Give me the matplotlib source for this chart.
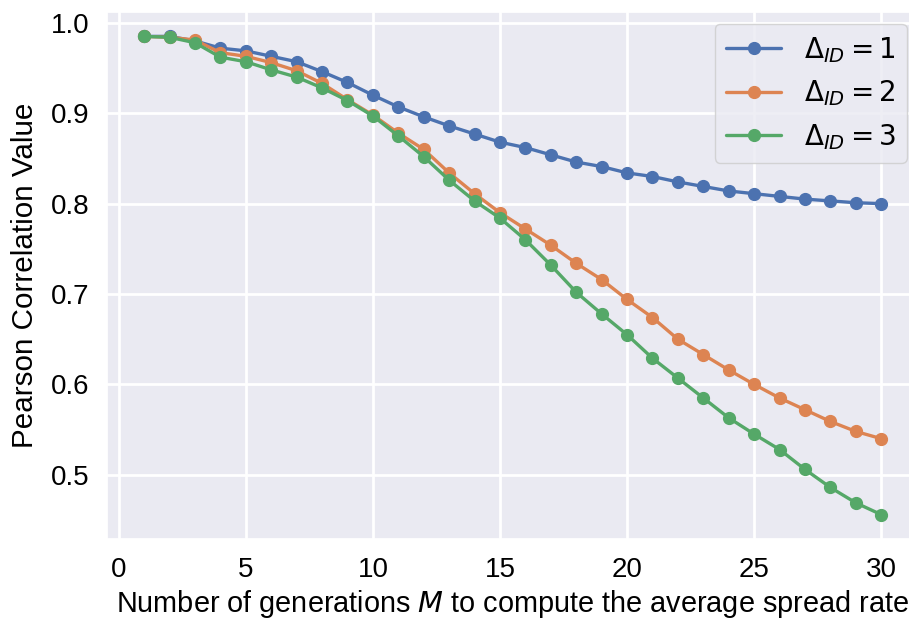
import numpy as np
import matplotlib
matplotlib.use("Agg")
import matplotlib.pyplot as plt
import seaborn as sns

generations = list(range(1, 31))

# Pearson correlation for each Delta_ID
delta1 = [0.985, 0.985, 0.980, 0.972, 0.969, 0.963, 0.957, 0.946, 0.934, 0.920,
          0.907, 0.896, 0.886, 0.877, 0.868, 0.862, 0.854, 0.846, 0.841, 0.834,
          0.830, 0.824, 0.819, 0.814, 0.811, 0.808, 0.805, 0.803, 0.801, 0.800]
delta2 = [0.985, 0.984, 0.981, 0.967, 0.963, 0.956, 0.947, 0.933, 0.915, 0.898,
          0.878, 0.860, 0.834, 0.811, 0.790, 0.772, 0.754, 0.734, 0.716, 0.694,
          0.674, 0.650, 0.633, 0.616, 0.600, 0.585, 0.572, 0.559, 0.548, 0.540]
delta3 = [0.985, 0.984, 0.978, 0.962, 0.957, 0.948, 0.940, 0.928, 0.914, 0.897,
          0.875, 0.852, 0.826, 0.803, 0.784, 0.760, 0.732, 0.702, 0.678, 0.655,
          0.629, 0.607, 0.585, 0.563, 0.545, 0.528, 0.506, 0.486, 0.469, 0.456]

series = [(delta1, r"$\Delta_{ID}=1$"),
          (delta2, r"$\Delta_{ID}=2$"),
          (delta3, r"$\Delta_{ID}=3$")]

sns.set_theme(style="darkgrid")
plt.rcParams['font.family'] = ['Liberation Sans', 'DejaVu Sans']
plt.rcParams['mathtext.fontset'] = 'dejavusans'
plt.rcParams['text.color'] = 'black'
plt.rcParams['axes.labelcolor'] = 'black'
plt.rcParams['xtick.color'] = 'black'
plt.rcParams['ytick.color'] = 'black'

fig = plt.figure(figsize=(9.09, 6.24), dpi=100)
ax = fig.add_axes([0.118, 0.137, 0.892, 0.843])

for vals, lab in series:
    ax.plot(generations, vals, marker='o', linewidth=2.4, markersize=8.5, label=lab)

ax.set_xticks([0, 5, 10, 15, 20, 25, 30])
ax.set_yticks([0.5, 0.6, 0.7, 0.8, 0.9, 1.0])
ax.tick_params(labelsize=20, pad=7)
ax.grid(linewidth=2)
ax.set_xlabel("Number of generations $M$ to compute the average spread rate",
              fontsize=20.8, labelpad=4)
ax.set_ylabel("Pearson Correlation Value", fontsize=21.3, labelpad=8)
ax.legend(loc="upper right", fontsize=20, borderaxespad=0.4)

fig.savefig("out.png", dpi=100)
